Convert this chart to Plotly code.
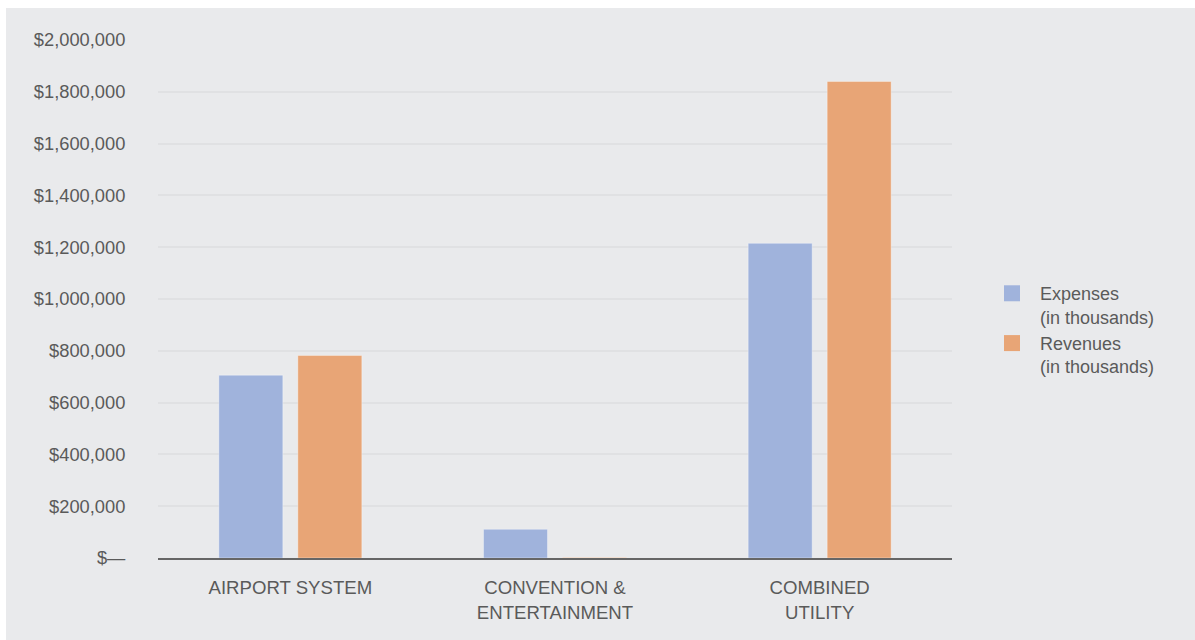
import plotly.graph_objects as go

categories = ["AIRPORT SYSTEM", "CONVENTION &<br>ENTERTAINMENT", "COMBINED<br>UTILITY"]
expenses = [706000, 111000, 1215000]
revenues = [782000, 1500, 1840000]
series_names = ["Expenses<br>(in thousands)", "Revenues<br>(in thousands)"]
tick_vals = [0, 200000, 400000, 600000, 800000, 1000000, 1200000, 1400000, 1600000, 1800000, 2000000]
tick_text = ["$\u2014", "$200,000", "$400,000", "$600,000", "$800,000", "$1,000,000",
             "$1,200,000", "$1,400,000", "$1,600,000", "$1,800,000", "$2,000,000"]

BG = "#E9EAEC"
FONT = "Liberation Sans, Arial, sans-serif"
TXT = "#5A5A5A"
COLORS = ["#A0B3DC", "#E8A576"]

fig = go.Figure()
for vals, name, col in zip([expenses, revenues], series_names, COLORS):
    fig.add_trace(go.Bar(x=categories, y=vals, name=name, showlegend=False,
                         marker=dict(color=col, line=dict(color="rgba(255,255,255,0.35)", width=1))))
# legend entries with larger square swatches
for name, col in zip(series_names, COLORS):
    fig.add_trace(go.Scatter(x=[None], y=[None], mode="markers", name=name,
                             marker=dict(symbol="square", size=18, color=col)))

fig.update_layout(
    width=1195, height=640,
    margin=dict(l=158, r=243, t=40, b=82),
    paper_bgcolor="white",
    plot_bgcolor="rgba(0,0,0,0)",
    barmode="group", bargap=0.403, bargroupgap=0.19,
    font=dict(family=FONT, color=TXT, size=18),
    legend=dict(x=(984 - 158) / 794, y=0.44, xanchor="left", yanchor="middle",
                itemwidth=46, tracegroupgap=0, valign="top",
                font=dict(size=18, color=TXT), bgcolor="rgba(0,0,0,0)"),
    xaxis=dict(showgrid=False, showline=True, linecolor="#666666", linewidth=2,
               ticks="outside", ticklen=12, tickcolor="rgba(0,0,0,0)",
               tickfont=dict(size=18.6, color=TXT)),
    yaxis=dict(range=[0, 2000000], tickvals=tick_vals, ticktext=tick_text,
               showgrid=True, gridcolor="#E0E1E3", gridwidth=2, zeroline=False,
               ticks="outside", ticklen=28, tickcolor="rgba(0,0,0,0)",
               tickfont=dict(size=18.3, color=TXT)),
    shapes=[dict(type="rect", xref="paper", yref="paper", layer="below",
                 x0=(6 - 158) / 794, x1=(1195 - 158) / 794,
                 y0=-(640 - 558) / 518 - 0.01, y1=(558 - 8) / 518,
                 fillcolor=BG, line=dict(width=0))],
)

fig.write_html("out.html")
